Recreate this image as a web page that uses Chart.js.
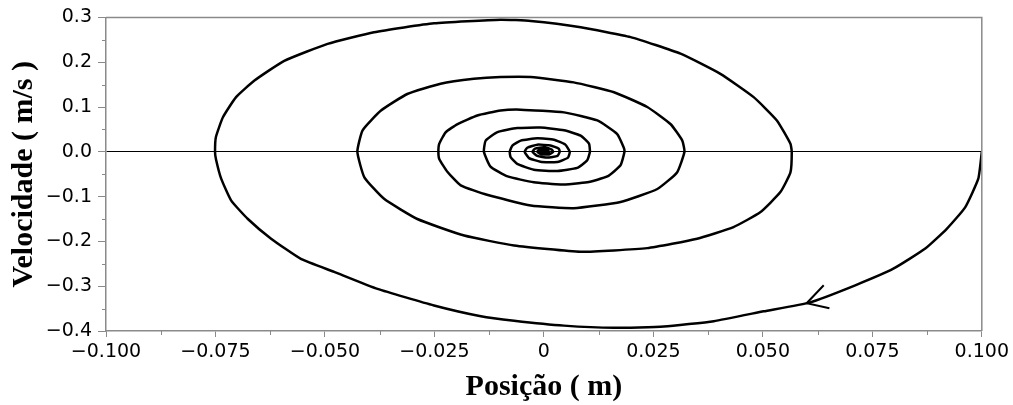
<!DOCTYPE html>
<html>
<head>
<meta charset="utf-8">
<script src="https://cdn.jsdelivr.net/npm/chart.js@4/dist/chart.umd.min.js"></script>
<style>
  body { margin: 0; background: #fff; }
  #wrap { width: 1013px; height: 405px; position: relative; }
</style>
</head>
<body>
<div id="wrap"><canvas id="phase-chart"></canvas></div>
<script>
// posição (m) e velocidade (m/s), na ordem do percurso
const posicao = [
  0.100, 0.0992, 0.0962, 0.0920, 0.0871, 0.0798, 0.0711, 0.0608, 0.0502, 0.0388, 0.0274, 0.0160, 0.0046, -0.0068, -0.0144,
  -0.0251, -0.0380, -0.0479, -0.0555, -0.0623, -0.0676, -0.0714, -0.0737, -0.0749, -0.0751,
  -0.0749, -0.0733, -0.0703, -0.0661, -0.0593, -0.0494, -0.0388, -0.0251, -0.0099, -0.0030, 0.0084, 0.0198, 0.0312, 0.0403, 0.0479, 0.0532, 0.0563, 0.0566,
  0.0563, 0.0540, 0.0494, 0.0433, 0.0350, 0.0236, 0.0084, -0.0068, -0.0182, -0.0289, -0.0365, -0.0410, -0.0426,
  -0.0414, -0.0372, -0.0312, -0.0236, -0.0160, -0.0099, -0.0030, 0.0068, 0.0160, 0.0236, 0.0289, 0.0316, 0.0321,
  0.0304, 0.0259, 0.0175, 0.0068, -0.0030, -0.0130, -0.0190, -0.0220, -0.0239, -0.0241,
  -0.0239, -0.0224, -0.0197, -0.0152, -0.0099, -0.0053, 0.0046, 0.0122, 0.0167, 0.0182, 0.0184,
  0.0175, 0.0145, 0.0099, 0.0038, -0.0023, -0.0083, -0.0122, -0.0137,
  -0.0133, -0.0106, -0.0061, -0.0008, 0.0046, 0.0084, 0.0103, 0.0105,
  0.0099, 0.0076, 0.0031, -0.0023, -0.0061, -0.0076, -0.0078,
  -0.0072, -0.0053, -0.0015, 0.0023, 0.0049, 0.0059,
  0.0055, 0.0031, -0.0008, -0.0034, -0.0044,
  -0.0038, -0.0015, 0.0015, 0.0034, 0.0036,
  0.0031, 0.0008, -0.0015, -0.0026,
  -0.0020, 0.0000, 0.0018, 0.0021,
  0.0012, -0.0008, -0.0015,
  -0.0010, 0.0005, 0.0012,
  0.0005, -0.0008,
  0.0000, 0.0004
];
const velocidade = [
  0.000, -0.060, -0.124, -0.172, -0.216, -0.261, -0.298, -0.336, -0.356, -0.378, -0.390, -0.393, -0.388, -0.377, -0.367,
  -0.343, -0.306, -0.268, -0.239, -0.194, -0.150, -0.109, -0.060, -0.016, 0.000,
  0.033, 0.077, 0.122, 0.159, 0.203, 0.241, 0.267, 0.287, 0.295, 0.292, 0.278, 0.256, 0.219, 0.174, 0.122, 0.070, 0.018, 0.000,
  -0.046, -0.090, -0.135, -0.168, -0.194, -0.215, -0.223, -0.209, -0.187, -0.150, -0.105, -0.057, 0.000,
  0.048, 0.092, 0.129, 0.152, 0.163, 0.167, 0.167, 0.155, 0.133, 0.100, 0.062, 0.025, 0.000,
  -0.046, -0.083, -0.112, -0.126, -0.120, -0.096, -0.075, -0.045, -0.016, 0.000,
  0.018, 0.044, 0.062, 0.081, 0.092, 0.094, 0.088, 0.070, 0.040, 0.010, 0.000,
  -0.030, -0.055, -0.068, -0.073, -0.068, -0.055, -0.033, 0.000,
  0.025, 0.044, 0.053, 0.054, 0.048, 0.036, 0.018, 0.000,
  -0.019, -0.036, -0.043, -0.040, -0.027, -0.012, 0.000,
  0.014, 0.025, 0.030, 0.027, 0.016, 0.000,
  -0.013, -0.023, -0.022, -0.014, 0.000,
  0.009, 0.016, 0.014, 0.007, 0.000,
  -0.009, -0.013, -0.009, 0.000,
  0.007, 0.010, 0.005, 0.000,
  -0.006, -0.005, 0.000,
  0.004, 0.005, 0.000,
  -0.003, 0.000,
  0.002, 0.000
];

// ponta de seta
const setaX = [0.0639, 0.0600, 0.0652];
const setaY = [-0.298, -0.338, -0.349];

const xTickValues = [-0.1, -0.075, -0.05, -0.025, 0, 0.025, 0.05, 0.075, 0.1];
const xTickLabels = ['\u22120.100', '\u22120.075', '\u22120.050', '\u22120.025', '0', '0.025', '0.050', '0.075', '0.100'];
const yTickValues = [-0.4, -0.3, -0.2, -0.1, 0, 0.1, 0.2, 0.3];
const yTickLabels = ['\u22120.4', '\u22120.3', '\u22120.2', '\u22120.1', '0.0', '0.1', '0.2', '0.3'];

const axisGray = '#8a8a8a';

// moldura superior/direita e traços secundários
const framePlugin = {
  id: 'frame',
  afterDraw(chart) {
    const { ctx, chartArea: a, scales } = chart;
    ctx.save();
    ctx.strokeStyle = axisGray;
    ctx.lineWidth = 1.5;
    ctx.beginPath();
    ctx.moveTo(a.left, a.top);
    ctx.lineTo(a.right, a.top);
    ctx.lineTo(a.right, a.bottom);
    ctx.stroke();

    ctx.lineWidth = 1;
    ctx.beginPath();
    for (let i = 0; i < xTickValues.length - 1; i++) {
      const px = Math.round(scales.x.getPixelForValue((xTickValues[i] + xTickValues[i + 1]) / 2)) + 0.5;
      ctx.moveTo(px, a.bottom);
      ctx.lineTo(px, a.bottom + 4);
    }
    for (let i = 0; i < yTickValues.length - 1; i++) {
      const py = Math.round(scales.y.getPixelForValue((yTickValues[i] + yTickValues[i + 1]) / 2)) + 0.5;
      ctx.moveTo(a.left, py);
      ctx.lineTo(a.left - 4, py);
    }
    ctx.stroke();
    ctx.restore();
  }
};

const tickFont = { family: 'DejaVu Sans', size: 19 };
const titleFont = { family: 'Liberation Serif', size: 30, weight: 'bold' };

new Chart(document.getElementById('phase-chart'), {
  type: 'scatter',
  data: {
    datasets: [
      {
        data: posicao.map((x, i) => ({ x: x, y: velocidade[i] })),
        showLine: true,
        borderColor: '#000',
        borderWidth: 2.5,
        pointRadius: 0,
        tension: 0.15
      },
      {
        data: setaX.map((x, i) => ({ x: x, y: setaY[i] })),
        showLine: true,
        borderColor: '#000',
        borderWidth: 2,
        pointRadius: 0,
        tension: 0
      }
    ]
  },
  options: {
    responsive: true,
    maintainAspectRatio: false,
    animation: false,
    layout: { padding: { top: 17, right: 30, left: 0, bottom: 0 } },
    plugins: {
      legend: { display: false },
      tooltip: { enabled: false }
    },
    scales: {
      x: {
        type: 'linear',
        min: -0.1,
        max: 0.1,
        afterBuildTicks(scale) { scale.ticks = xTickValues.map(v => ({ value: v })); },
        afterFit(scale) { scale.height = 74; },
        ticks: {
          color: '#000',
          font: tickFont,
          padding: 4,
          maxRotation: 0,
          autoSkip: false,
          callback: (value, index) => xTickLabels[index]
        },
        grid: { drawOnChartArea: false, tickLength: 6, tickColor: axisGray },
        border: { color: axisGray, width: 1.5 },
        title: {
          display: true,
          text: 'Posição ( m)',
          color: '#000',
          font: titleFont,
          padding: { top: 0, bottom: 0 }
        }
      },
      y: {
        type: 'linear',
        min: -0.4,
        max: 0.3,
        afterBuildTicks(scale) { scale.ticks = yTickValues.map(v => ({ value: v })); },
        afterFit(scale) { scale.width = 106; },
        ticks: {
          color: '#000',
          font: tickFont,
          padding: 6,
          autoSkip: false,
          callback: (value, index) => yTickLabels[index]
        },
        grid: {
          color: c => (c.tick && Math.abs(c.tick.value) < 1e-9 ? '#000' : 'rgba(0,0,0,0)'),
          lineWidth: 1,
          tickLength: 8,
          tickColor: axisGray
        },
        border: { color: axisGray, width: 1.5 },
        title: {
          display: true,
          text: 'Velocidade ( m/s )',
          color: '#000',
          font: titleFont,
          padding: { top: 6, bottom: 0 }
        }
      }
    }
  },
  plugins: [framePlugin]
});
</script>
</body>
</html>
